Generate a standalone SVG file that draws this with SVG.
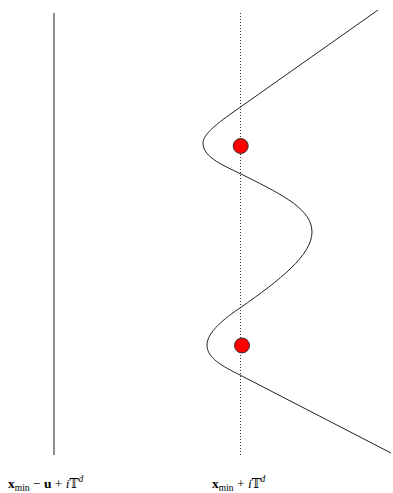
<svg xmlns="http://www.w3.org/2000/svg" width="393" height="493" viewBox="0 0 393 493">
<style>
.lbl{font-family:"Liberation Serif","DejaVu Serif",serif;font-size:13.5px;fill:#000}
.b{font-weight:bold}
.it{font-style:italic}
.sub{font-size:9.5px}
.ds{font-family:"DejaVu Serif","Noto Sans",serif;font-size:12px}
.dot{fill:#ff0000;stroke:#333;stroke-width:1}
</style>
<rect width="393" height="493" fill="#fff"/>
<g id="connectors">
<line x1="54" y1="13" x2="54" y2="455" stroke="#555" stroke-width="1.3"/>
<line x1="240.5" y1="13" x2="240.5" y2="456" stroke="#333" stroke-width="1" stroke-dasharray="1,2"/>
<path d="M378,10 L232,113 C215,125 203,135 203,143 C203,158 225,166 245,176 C285,196 312,210 312,232 C312,255 280,280 240,308 C225,318 207,332 207,345 C207,358 222,366 240,375 L391,453" fill="none" stroke="#222" stroke-width="1"/>
</g>
<g id="point1"><circle class="dot" cx="240.7" cy="146" r="7.5"/></g>
<g id="point2"><circle class="dot" cx="242" cy="345.5" r="7.5"/></g>
<g id="label1"><text class="lbl" x="8" y="488"><tspan class="b">x</tspan><tspan class="sub" dy="3">min</tspan><tspan dy="-3"> − </tspan><tspan class="b">u</tspan><tspan> + </tspan><tspan class="it">i</tspan><tspan class="ds">𝕋</tspan><tspan class="sub it" dy="-6">d</tspan></text></g>
<g id="label2"><text class="lbl" x="212" y="488"><tspan class="b">x</tspan><tspan class="sub" dy="3">min</tspan><tspan dy="-3"> + </tspan><tspan class="it">i</tspan><tspan class="ds">𝕋</tspan><tspan class="sub it" dy="-6">d</tspan></text></g>
</svg>
